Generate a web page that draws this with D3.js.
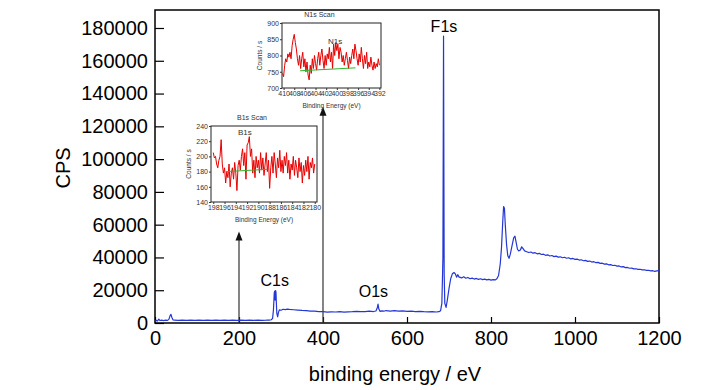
<!DOCTYPE html>
<html>
<head>
<meta charset="utf-8">
<script src="https://cdn.jsdelivr.net/npm/d3@7"></script>
<style>
  html, body { margin: 0; padding: 0; background: #fff; }
  svg { display: block; }
  text { font-family: "Liberation Sans", Arial, sans-serif; }
</style>
</head>
<body>
<svg id="chart" width="728" height="390"></svg>
<script>
// ---------------- DATA ----------------
const xTicks = [0, 200, 400, 600, 800, 1000, 1200];
const yTicks = [0, 20000, 40000, 60000, 80000, 100000, 120000, 140000, 160000, 180000];

// survey spectrum: binding energy (eV) and CPS
const surveyE = [0,3,6,9,12,16,20,25,30,33,36,38,40,43,47,55,65,75,85,95,105,115,125,135,145,155,165,175,185,195,205,215,225,235,245,255,265,272,277,280,282,284,285,286,287,288,289,290,292,294,296,300,305,310,315,320,330,340,350,360,370,380,390,400,410,420,430,440,450,460,470,480,490,500,510,520,526,529,531,533,536,540,545,550,560,570,580,590,600,610,620,630,640,650,660,670,676,680,683,684.5,685.5,687,688.5,690,693,696,700,704,708,712,715,718,721,724,725,730,735,740,745,750,755,760,765,770,775,780,785,790,795,800,805,810,814,818,822,825,828,830,832,834,837,840,843,846,850,854,857,860,863,866,870,873,876,880,885,890,895,900,905,910,915,920,925,930,935,940,945,950,955,960,965,970,975,980,985,990,995,1000,1005,1010,1015,1020,1025,1030,1035,1040,1045,1050,1055,1060,1065,1070,1075,1080,1085,1090,1095,1100,1105,1110,1115,1120,1125,1130,1135,1140,1145,1150,1155,1160,1165,1170,1175,1180,1185,1190,1195,1200];
const surveyCPS = [900,1600,1200,2400,1500,1800,1500,1700,1600,2200,4500,5300,3500,1900,1700,1600,1700,1600,1700,1650,1750,1600,1700,1650,1750,1600,1700,1650,1750,1650,1700,1600,1700,1650,1750,1650,1700,1800,2000,2800,8000,18500,19500,14000,19800,19000,12000,6000,3800,6500,8000,7800,8400,8200,8500,8300,8100,7900,7700,7600,7300,7200,7000,6900,6600,6800,6700,6900,6600,6800,6900,7100,6900,7000,7200,7000,7300,9000,11500,8500,7100,7400,7200,7600,7300,7500,7300,7400,7100,7200,7000,7100,6900,6800,6900,6700,6900,7500,12000,28000,40000,175000,30000,12000,9500,14000,21000,27000,30000,30800,30000,28000,29500,28000,28000,27500,28200,27300,27800,27000,27400,26800,27200,26600,27000,26500,26800,26300,26600,26200,26500,26300,27000,29000,36000,46000,62000,71000,70000,60000,48000,41000,39500,42000,47000,52000,53000,49000,45000,44000,44500,46500,45500,44000,43500,43000,43300,42600,42900,42200,42500,41800,42000,41300,41600,40900,41200,40500,40800,40200,40400,39800,40100,39500,39800,39100,39400,38800,39000,38400,38600,38000,38200,37600,37800,37200,37400,36800,37000,36400,36500,35900,36100,35500,35600,35100,35200,34700,34800,34200,34400,33800,33900,33400,33500,33000,33100,32700,32800,32400,32500,32100,32200,31800,31900,31500,31800,32000];

// peak annotations
const peakLabels = ["C1s", "O1s", "F1s"];
const peakLabelE = [285, 520, 688];
const peakLabelCPS = [22700, 16000, 177500];

// arrows to insets (eV of arrow, CPS of arrow tip)
const arrowE = [200, 400];
const arrowTipCPS = [55800, 132000];

// B1s high-resolution scan
const b1sE = [198.0,197.8,197.6,197.4,197.2,197.0,196.8,196.6,196.4,196.2,196.0,195.8,195.6,195.4,195.2,195.0,194.8,194.6,194.4,194.2,194.0,193.8,193.6,193.4,193.2,193.0,192.8,192.6,192.4,192.2,192.0,191.8,191.6,191.4,191.2,191.0,190.8,190.6,190.4,190.2,190.0,189.8,189.6,189.4,189.2,189.0,188.8,188.6,188.4,188.2,188.0,187.8,187.6,187.4,187.2,187.0,186.8,186.6,186.4,186.2,186.0,185.8,185.6,185.4,185.2,185.0,184.8,184.6,184.4,184.2,184.0,183.8,183.6,183.4,183.2,183.0,182.8,182.6,182.4,182.2,182.0,181.8,181.6,181.4,181.2,181.0,180.8,180.6,180.4,180.2,180.0];
const b1sCounts = [205,198,200,190,185,195,200,222,190,178,185,165,180,172,190,160,178,185,170,192,178,155,188,195,182,200,210,188,205,170,215,218,226,200,210,178,195,172,200,185,195,178,205,182,198,175,190,205,180,195,158,185,200,178,205,190,172,198,185,208,180,195,178,200,188,205,178,195,170,190,182,200,175,195,185,172,198,180,192,165,188,175,195,180,200,170,192,185,198,178,190];
const b1sBgE = [195.8, 188.4];
const b1sBgCounts = [180, 183];
const b1sXTicks = [198,196,194,192,190,188,186,184,182,180];
const b1sYTicks = [140,160,180,200,220,240];

// N1s high-resolution scan
const n1sE = [410.2,410.0,409.8,409.6,409.4,409.2,409.0,408.8,408.6,408.4,408.2,408.0,407.8,407.6,407.4,407.2,407.0,406.8,406.6,406.4,406.2,406.0,405.8,405.6,405.4,405.2,405.0,404.8,404.6,404.4,404.2,404.0,403.8,403.6,403.4,403.2,403.0,402.8,402.6,402.4,402.2,402.0,401.8,401.6,401.4,401.2,401.0,400.8,400.6,400.4,400.2,400.0,399.8,399.6,399.4,399.2,399.0,398.8,398.6,398.4,398.2,398.0,397.8,397.6,397.4,397.2,397.0,396.8,396.6,396.4,396.2,396.0,395.8,395.6,395.4,395.2,395.0,394.8,394.6,394.4,394.2,394.0,393.8,393.6,393.4,393.2,393.0,392.8,392.6,392.4,392.2,392.0];
const n1sCounts = [745,735,770,790,780,805,795,810,790,830,850,865,840,820,790,770,800,760,790,810,765,790,750,780,740,725,770,745,790,760,800,775,755,790,810,770,800,820,785,760,800,770,805,790,825,780,810,760,835,800,840,815,835,790,825,810,780,800,770,790,810,785,760,795,775,800,820,790,835,815,790,770,805,780,825,790,760,800,775,810,760,780,765,795,770,755,780,760,775,765,790,770];
const n1sBgE = [406.9, 396.5];
const n1sBgCounts = [753, 762];
const n1sXTicks = [410,408,406,404,402,400,398,396,394,392];
const n1sYTicks = [700,750,800,850,900];

// ---------------- DRAW ----------------
const svg = d3.select("#chart");
const L = 155, R = 659, T = 10, B = 323;

const x = d3.scaleLinear().domain([0, 1200]).range([L, R]);
const y = d3.scaleLinear().domain([0, 180000]).range([B, 28]);

// axes
const yAxis = d3.axisLeft(y).tickValues(yTicks).tickFormat(d3.format("d"))
  .tickSizeInner(-9).tickSizeOuter(0).tickPadding(7);
const gy = svg.append("g").attr("transform", `translate(${L},0)`).call(yAxis);
gy.select(".domain").remove();
gy.selectAll(".tick line").attr("stroke", "#000").attr("stroke-width", 1.2);
gy.selectAll(".tick text").attr("font-size", 20).attr("fill", "#000")
  .style("font-family", '"Liberation Sans", Arial, sans-serif');

const xAxis = d3.axisBottom(x).tickValues(xTicks).tickFormat(d3.format("d"))
  .tickSizeInner(-6).tickSizeOuter(0).tickPadding(8);
const gx = svg.append("g").attr("transform", `translate(0,${B})`).call(xAxis);
gx.select(".domain").remove();
gx.selectAll(".tick line").attr("stroke", "#000").attr("stroke-width", 1.2);
gx.selectAll(".tick text").attr("font-size", 20).attr("fill", "#000")
  .style("font-family", '"Liberation Sans", Arial, sans-serif');

// frame
svg.append("rect").attr("x", L).attr("y", T).attr("width", R - L).attr("height", B - T)
  .attr("fill", "none").attr("stroke", "#000").attr("stroke-width", 1.5);

// axis titles
svg.append("text").attr("x", 395).attr("y", 381).attr("text-anchor", "middle")
  .attr("font-size", 20).text("binding energy / eV");
svg.append("text").attr("transform", "translate(70,168) rotate(-90)").attr("text-anchor", "middle")
  .attr("font-size", 20).text("CPS");

// arrows
arrowE.forEach((e, i) => {
  const ax = x(e), tip = y(arrowTipCPS[i]);
  svg.append("line").attr("x1", ax).attr("x2", ax).attr("y1", y(0)).attr("y2", tip + 4)
    .attr("stroke", "#333").attr("stroke-width", 1.2);
  svg.append("path").attr("d", `M${ax},${tip} L${ax - 3.5},${tip + 9} L${ax + 3.5},${tip + 9} Z`)
    .attr("fill", "#111");
});

// survey spectrum
const line = d3.line().x((d, i) => x(surveyE[i])).y(d => y(d));
svg.append("path").datum(surveyCPS).attr("d", line)
  .attr("fill", "none").attr("stroke", "#2437d6").attr("stroke-width", 1.2)
  .attr("stroke-linejoin", "round");

// peak labels
peakLabels.forEach((t, i) => {
  svg.append("text").attr("x", x(peakLabelE[i])).attr("y", y(peakLabelCPS[i]))
    .attr("text-anchor", "middle").attr("font-size", 16).attr("fill", "#000").text(t);
});

// insets
function drawInset(cfg) {
  const g = svg.append("g");
  const ix = d3.scaleLinear().domain(cfg.xDomain).range([cfg.left, cfg.right]);
  const iy = d3.scaleLinear().domain(cfg.yDomain).range([cfg.bottom, cfg.top]);
  g.append("rect").attr("x", cfg.left).attr("y", cfg.top)
    .attr("width", cfg.right - cfg.left).attr("height", cfg.bottom - cfg.top)
    .attr("fill", "#fff").attr("stroke", "#222").attr("stroke-width", 1);
  const ax = g.append("g").attr("transform", `translate(0,${cfg.bottom})`)
    .call(d3.axisBottom(ix).tickValues(cfg.xTicks).tickFormat(d3.format("d")).tickSize(2).tickPadding(1));
  ax.select(".domain").remove();
  const ay = g.append("g").attr("transform", `translate(${cfg.left},0)`)
    .call(d3.axisLeft(iy).tickValues(cfg.yTicks).tickFormat(d3.format("d")).tickSize(2).tickPadding(1));
  ay.select(".domain").remove();
  g.selectAll(".tick text").attr("font-size", 7).attr("fill", "#333")
    .style("font-family", '"Liberation Sans", Arial, sans-serif');
  g.selectAll(".tick line").attr("stroke", "#333");
  const l = d3.line().x((d, i) => ix(cfg.e[i])).y(d => iy(d));
  g.append("path").datum(cfg.counts).attr("d", l).attr("fill", "none")
    .attr("stroke", "#e80000").attr("stroke-width", 1);
  const bl = d3.line().x((d, i) => ix(cfg.bgE[i])).y(d => iy(d));
  g.append("path").datum(cfg.bgCounts).attr("d", bl).attr("fill", "none")
    .attr("stroke", "#2cb52c").attr("stroke-width", 1);
  g.append("text").attr("x", (cfg.left + cfg.right) / 2 - 12).attr("y", cfg.top - 6)
    .attr("text-anchor", "middle").attr("font-size", 7).attr("fill", "#333").text(cfg.title);
  g.append("text").attr("x", ix(cfg.peakE)).attr("y", iy(cfg.peakC))
    .attr("text-anchor", "middle").attr("font-size", 8).attr("fill", "#333").text(cfg.peak);
  g.append("text").attr("x", (cfg.left + cfg.right) / 2).attr("y", cfg.bottom + 20)
    .attr("text-anchor", "middle").attr("font-size", 6.5).attr("fill", "#333").text("Binding Energy (eV)");
  g.append("text").attr("transform", `translate(${cfg.left - 20},${(cfg.top + cfg.bottom) / 2}) rotate(-90)`)
    .attr("text-anchor", "middle").attr("font-size", 6.5).attr("fill", "#333").text("Counts / s");
}

drawInset({
  left: 211, right: 317, top: 126, bottom: 202,
  xDomain: [198.4, 179.6], yDomain: [140, 240],
  xTicks: b1sXTicks, yTicks: b1sYTicks,
  e: b1sE, counts: b1sCounts, bgE: b1sBgE, bgCounts: b1sBgCounts,
  title: "B1s Scan", peak: "B1s", peakE: 192.4, peakC: 228
});
drawInset({
  left: 282, right: 381, top: 23, bottom: 88,
  xDomain: [410.3, 391.7], yDomain: [700, 900],
  xTicks: n1sXTicks, yTicks: n1sYTicks,
  e: n1sE, counts: n1sCounts, bgE: n1sBgE, bgCounts: n1sBgCounts,
  title: "N1s Scan", peak: "N1s", peakE: 400.3, peakC: 835
});
</script>
</body>
</html>
